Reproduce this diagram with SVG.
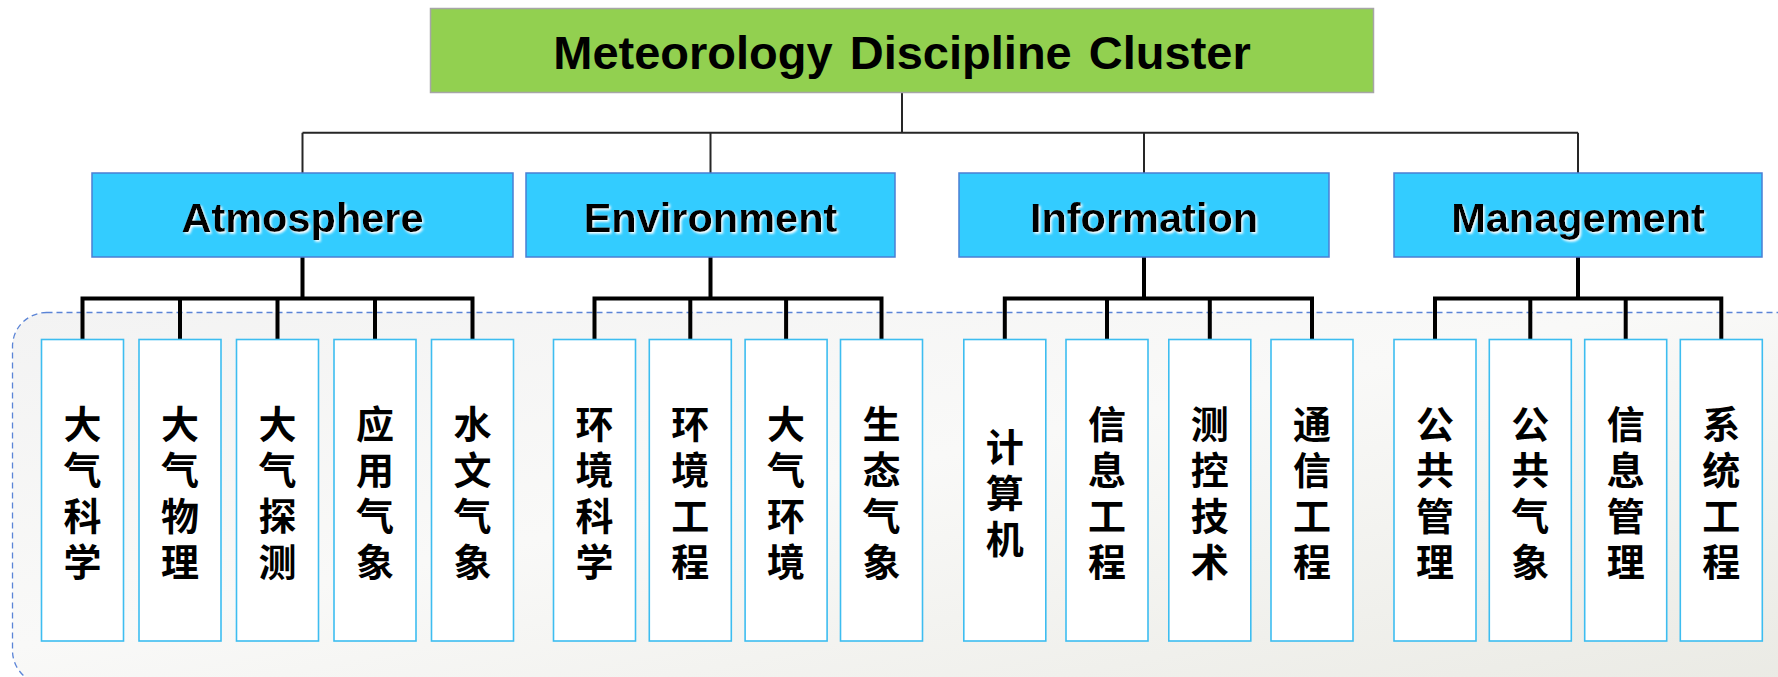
<svg xmlns="http://www.w3.org/2000/svg" width="1778" height="677" viewBox="0 0 1778 677">
<defs>
<linearGradient id="panelGrad" x1="0" y1="0" x2="1" y2="1">
<stop offset="0" stop-color="#F3F3F3"/>
<stop offset="0.45" stop-color="#F9F9F8"/>
<stop offset="1" stop-color="#EAEAE4"/>
</linearGradient>
<filter id="glow" x="-10%" y="-30%" width="120%" height="160%">
<feDropShadow dx="1.6" dy="1.8" stdDeviation="1" flood-color="#FFFFFF" flood-opacity="1"/>
</filter>
<style>
.root{fill:#92D050;stroke:#A6A6A6;stroke-width:1.5}
.cat{fill:#33CCFF;stroke:#4A7FD4;stroke-width:1.5}
.leaf{fill:#FFFFFF;stroke:#3DBDF0;stroke-width:1.6}
.rt{font-family:"Liberation Sans",Arial,sans-serif;font-weight:bold;font-size:47px;fill:#000;text-anchor:middle;word-spacing:4px}
.ct{font-family:"Liberation Sans",Arial,sans-serif;font-weight:bold;font-size:41.5px;fill:#000;text-anchor:middle;filter:url(#glow)}
.lt{font-family:"Noto Sans CJK SC","Noto Sans CJK TC",sans-serif;font-weight:bold;font-size:38px;fill:#000;text-anchor:middle;writing-mode:vertical-rl;letter-spacing:8px}
.thin{fill:none;stroke:#262626;stroke-width:2}
.thick{fill:none;stroke:#000;stroke-width:4;stroke-linejoin:miter;stroke-linecap:square}
</style>
</defs>
<rect id="panel" x="12.5" y="312.5" width="1800" height="372" rx="34" fill="url(#panelGrad)" stroke="#5B84D6" stroke-width="1.3" stroke-dasharray="6 4"/>
<g id="connectors">
<path class="thin" d="M902 92.5 V132.7 M302.5 132.7 H1578 M302.5 132.7 V173 M710.5 132.7 V173 M1144 132.7 V173 M1578 132.7 V173"/>
<path class="thick" d="M302.5 257 V298.5 M82.5 338 V298.5 H472.5 V338 M180 298.5 V338 M277.5 298.5 V338 M375 298.5 V338"/>
<path class="thick" d="M710.5 257 V298.5 M594.5 338 V298.5 H881.5 V338 M690.3 298.5 V338 M786.1 298.5 V338"/>
<path class="thick" d="M1144 257 V298.5 M1004.8 338 V298.5 H1312 V338 M1107 298.5 V338 M1209.8 298.5 V338"/>
<path class="thick" d="M1578 257 V298.5 M1435 338 V298.5 H1721.3 V338 M1530.3 298.5 V338 M1625.7 298.5 V338"/>
</g>
<g id="root">
<rect class="root" x="430.5" y="8.5" width="943" height="84"/>
<text class="rt" x="902" y="69">Meteorology Discipline Cluster</text>
</g>
<g id="cat-atmosphere">
<rect class="cat" x="92" y="173" width="421" height="84"/>
<text class="ct" x="302.5" y="231.5">Atmosphere</text>
</g>
<g id="cat-environment">
<rect class="cat" x="526" y="173" width="369" height="84"/>
<text class="ct" x="710.5" y="231.5">Environment</text>
</g>
<g id="cat-information">
<rect class="cat" x="959" y="173" width="370" height="84"/>
<text class="ct" x="1144" y="231.5">Information</text>
</g>
<g id="cat-management">
<rect class="cat" x="1394" y="173" width="368" height="84"/>
<text class="ct" x="1578" y="231.5">Management</text>
</g>
<g id="leaf-a1"><rect class="leaf" x="41.5" y="339.5" width="82" height="301.5"/><text class="lt" x="82.5" y="496.5">大气科学</text></g>
<g id="leaf-a2"><rect class="leaf" x="139" y="339.5" width="82" height="301.5"/><text class="lt" x="180" y="496.5">大气物理</text></g>
<g id="leaf-a3"><rect class="leaf" x="236.5" y="339.5" width="82" height="301.5"/><text class="lt" x="277.5" y="496.5">大气探测</text></g>
<g id="leaf-a4"><rect class="leaf" x="334" y="339.5" width="82" height="301.5"/><text class="lt" x="375" y="496.5">应用气象</text></g>
<g id="leaf-a5"><rect class="leaf" x="431.5" y="339.5" width="82" height="301.5"/><text class="lt" x="472.5" y="496.5">水文气象</text></g>
<g id="leaf-e1"><rect class="leaf" x="553.5" y="339.5" width="82" height="301.5"/><text class="lt" x="594.5" y="496.5">环境科学</text></g>
<g id="leaf-e2"><rect class="leaf" x="649.3" y="339.5" width="82" height="301.5"/><text class="lt" x="690.3" y="496.5">环境工程</text></g>
<g id="leaf-e3"><rect class="leaf" x="745.1" y="339.5" width="82" height="301.5"/><text class="lt" x="786.1" y="496.5">大气环境</text></g>
<g id="leaf-e4"><rect class="leaf" x="840.5" y="339.5" width="82" height="301.5"/><text class="lt" x="881.5" y="496.5">生态气象</text></g>
<g id="leaf-i1"><rect class="leaf" x="963.8" y="339.5" width="82" height="301.5"/><text class="lt" x="1004.8" y="497">计算机</text></g>
<g id="leaf-i2"><rect class="leaf" x="1066" y="339.5" width="82" height="301.5"/><text class="lt" x="1107" y="496.5">信息工程</text></g>
<g id="leaf-i3"><rect class="leaf" x="1168.8" y="339.5" width="82" height="301.5"/><text class="lt" x="1209.8" y="496.5">测控技术</text></g>
<g id="leaf-i4"><rect class="leaf" x="1271" y="339.5" width="82" height="301.5"/><text class="lt" x="1312" y="496.5">通信工程</text></g>
<g id="leaf-m1"><rect class="leaf" x="1394" y="339.5" width="82" height="301.5"/><text class="lt" x="1435" y="496.5">公共管理</text></g>
<g id="leaf-m2"><rect class="leaf" x="1489.3" y="339.5" width="82" height="301.5"/><text class="lt" x="1530.3" y="496.5">公共气象</text></g>
<g id="leaf-m3"><rect class="leaf" x="1584.7" y="339.5" width="82" height="301.5"/><text class="lt" x="1625.7" y="496.5">信息管理</text></g>
<g id="leaf-m4"><rect class="leaf" x="1680.3" y="339.5" width="82" height="301.5"/><text class="lt" x="1721.3" y="496.5">系统工程</text></g>
</svg>
